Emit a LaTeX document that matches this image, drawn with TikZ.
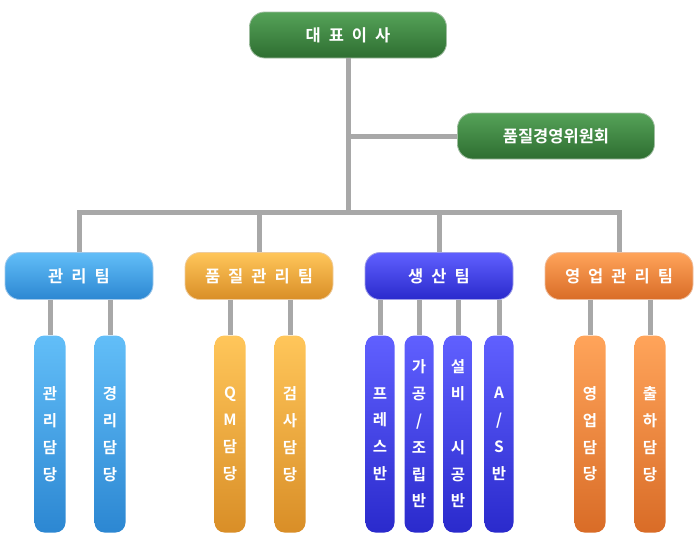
\documentclass[tikz,border=0pt]{standalone}
\usepackage{fontspec}
\newfontfamily\kr{Noto Sans CJK KR}[BoldFont={Noto Sans CJK KR Bold}]
\usepackage{tikz}

\definecolor{linegray}{HTML}{A8A8A8}
\definecolor{grnA}{HTML}{55A258}
\definecolor{grnB}{HTML}{2E6E31}
\definecolor{bluA}{HTML}{62BEF8}
\definecolor{bluM}{HTML}{45A8EE}
\definecolor{bluB}{HTML}{2C87D2}
\definecolor{ylwA}{HTML}{FFC65A}
\definecolor{ylwM}{HTML}{F2AA3E}
\definecolor{ylwB}{HTML}{D98E27}
\definecolor{vioA}{HTML}{6060FF}
\definecolor{vioM}{HTML}{4343F2}
\definecolor{vioB}{HTML}{2A2ACC}
\definecolor{orgA}{HTML}{FFA45A}
\definecolor{orgM}{HTML}{F48A40}
\definecolor{orgB}{HTML}{D96C27}

\newcommand{\ls}{\hspace{8pt}}

\begin{document}
\begin{tikzpicture}[x=1pt, y=-1pt,
    line/.style={draw=linegray, line width=5pt},
    box/.style={rounded corners=15pt, draw=white!55!#1, line width=0.8pt, inner sep=0pt,
      text=white, font=\kr\bfseries\fontsize{16.5}{19}\selectfont},
    ceobox/.style={box=grnB, top color=grnA, bottom color=grnB, minimum width=197pt, minimum height=46pt},
    dept/.style 2 args={box=#2, top color=#1, bottom color=#2, minimum width=148pt, minimum height=47pt},
    col/.style n args={3}{rounded corners=10pt, top color=#1, middle color=#2, bottom color=#3,
      minimum width=31pt, minimum height=197pt, inner sep=0pt, align=center,
      text=white, font=\kr\bfseries\fontsize{15.5}{26.8}\selectfont}]
    \useasboundingbox (0,0) rectangle (700,546);

    % top
    \node [ceobox] (ceo) at (348,35) {대\ls 표\ls 이\ls 사};
    \node [ceobox] (committee) at (556,136) {품질경영위원회};
    \coordinate (bus) at (348,212);

    % departments
    \node [dept={bluA}{bluB}] (mgmt) at (79,276) {관\ls 리\ls 팀};
    \node [dept={ylwA}{ylwB}] (qc) at (259,276) {품\ls 질\ls 관\ls 리\ls 팀};
    \node [dept={vioA}{vioB}] (prod) at (439,276) {생\ls 산\ls 팀};
    \node [dept={orgA}{orgB}] (sales) at (619,276) {영\ls 업\ls 관\ls 리\ls 팀};

    % columns
    \node [col={bluA}{bluM}{bluB}] (mgmt1) at (50,434) {관\\리\\담\\당};
    \node [col={bluA}{bluM}{bluB}] (mgmt2) at (110,434) {경\\리\\담\\당};
    \node [col={ylwA}{ylwM}{ylwB}] (qc1) at (230,434) {Q\\M\\담\\당};
    \node [col={ylwA}{ylwM}{ylwB}] (qc2) at (290,434) {검\\사\\담\\당};
    \node [col={vioA}{vioM}{vioB}, minimum width=29pt] (prod1) at (380,434) {프\\레\\스\\반};
    \node [col={vioA}{vioM}{vioB}, minimum width=29pt] (prod2) at (419,434) {가\\공\\/\\조\\립\\반};
    \node [col={vioA}{vioM}{vioB}, minimum width=29pt] (prod3) at (458,434) {설\\비\\\\시\\공\\반};
    \node [col={vioA}{vioM}{vioB}, minimum width=29pt] (prod4) at (499,434) {A\\/\\S\\반};
    \node [col={orgA}{orgM}{orgB}] (sales1) at (590,434) {영\\업\\담\\당};
    \node [col={orgA}{orgM}{orgB}] (sales2) at (650,434) {출\\하\\담\\당};

    % lines
    \draw [line] (ceo.south) -- (bus);
    \draw [line] (ceo.south |- committee) -- (committee.west);
    \foreach \d in {mgmt, qc, prod, sales}
      \draw [line] (\d.north) |- (bus);
    \foreach \d/\c in {mgmt/mgmt1, mgmt/mgmt2, qc/qc1, qc/qc2, prod/prod1, prod/prod2,
        prod/prod3, prod/prod4, sales/sales1, sales/sales2}
      \draw [line] (\c.north |- \d.south) -- (\c.north);
  \end{tikzpicture}
\end{document}
